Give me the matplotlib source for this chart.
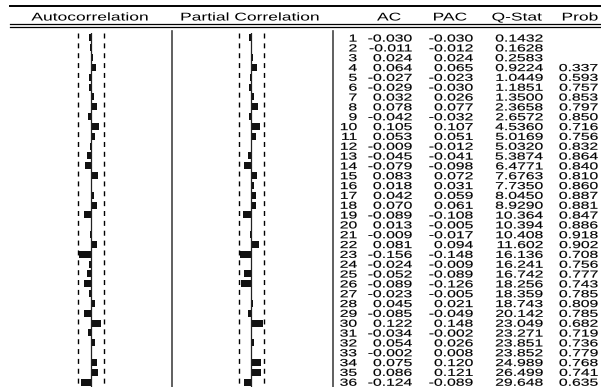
import matplotlib
matplotlib.use("Agg")
import matplotlib.pyplot as plt
from matplotlib.patheffects import AbstractPathEffect
from matplotlib.transforms import Affine2D

plt.rcParams['font.family'] = 'Liberation Sans'
plt.rcParams['lines.scale_dashes'] = False

# correlogram values (lags 1..36)
lags = list(range(1, 37))
ac = [-0.030, -0.011, 0.024, 0.064, -0.027, -0.029, 0.032, 0.078, -0.042, 0.105,
      0.053, -0.009, -0.045, -0.079, 0.083, 0.018, 0.042, 0.070, -0.089, 0.013,
      -0.009, 0.081, -0.156, -0.024, -0.052, -0.089, -0.023, 0.045, -0.085, 0.122,
      -0.034, 0.054, -0.002, 0.075, 0.086, -0.124]
pac = [-0.030, -0.012, 0.024, 0.065, -0.023, -0.030, 0.026, 0.077, -0.032, 0.107,
       0.051, -0.012, -0.041, -0.098, 0.072, 0.031, 0.059, 0.061, -0.108, -0.005,
       -0.017, 0.094, -0.148, -0.009, -0.089, -0.126, -0.005, 0.021, -0.049, 0.148,
       -0.002, 0.026, 0.008, 0.120, 0.121, -0.089]
q_stat = [0.1432, 0.1628, 0.2583, 0.9224, 1.0449, 1.1851, 1.3500, 2.3658, 2.6572, 4.5360,
          5.0169, 5.0320, 5.3874, 6.4771, 7.6763, 7.7350, 8.0450, 8.9290, 10.364, 10.394,
          10.408, 11.602, 16.136, 16.241, 16.742, 18.256, 18.359, 18.743, 20.142, 23.049,
          23.271, 23.851, 23.852, 24.989, 26.499, 29.648]
prob = [None, None, None, 0.337, 0.593, 0.757, 0.853, 0.797, 0.850, 0.716,
        0.756, 0.832, 0.864, 0.840, 0.810, 0.860, 0.887, 0.881, 0.847, 0.886,
        0.918, 0.902, 0.708, 0.756, 0.777, 0.743, 0.785, 0.809, 0.785, 0.682,
        0.719, 0.736, 0.779, 0.768, 0.741, 0.635]
band = 0.16  # approx 2/sqrt(T)

W, H = 601, 387
TOP = 33        # first table row starts here (px)
SCALE = 80      # px per unit of correlation
STRETCH = 1.55  # wide report font


class Widen(AbstractPathEffect):
    """Stretch text glyphs horizontally around an anchor, with a thin outline."""

    def __init__(self, sx, anchor='left', stroke=0.0):
        super().__init__()
        self.sx = sx
        self.anchor = anchor
        self.stroke = stroke

    def draw_path(self, renderer, gc, tpath, affine, rgbFace=None):
        ext = tpath.get_extents()
        if self.anchor == 'right':
            px = ext.x1
        elif self.anchor == 'center':
            px = (ext.x0 + ext.x1) / 2
        else:
            px = ext.x0
        st = Affine2D().translate(-px, 0).scale(self.sx, 1).translate(px, 0)
        gc0 = renderer.new_gc()
        gc0.copy_properties(gc)
        gc0.set_linewidth(self.stroke)
        gc0.set_foreground(rgbFace)
        renderer.draw_path(gc0, tpath, st + affine, rgbFace)
        gc0.restore()


fig = plt.figure(figsize=(W / 100, H / 100), dpi=100)

# header, rules and column separators in pixel coordinates
hdr = fig.add_axes([0, 0, 1, 1])
hdr.set_xlim(0, W)
hdr.set_ylim(H, 0)
hdr.axis('off')
hdr.plot([10, W], [6, 6], color='k', lw=1.4)
hdr.plot([10, W], [24, 24], color='k', lw=0.9)
hdr.plot([10, W], [27, 27], color='k', lw=0.9)
for xs in (172, 333):
    hdr.plot([xs, xs], [31, H], color='#444444', lw=1.2)

headers = [("Autocorrelation", 90), ("Partial Correlation", 250),
           ("AC", 389), ("PAC", 450), ("Q-Stat", 517), ("Prob", 580)]
for label, xc in headers:
    hdr.text(xc, 20.5, label, ha='center', va='baseline', fontsize=8.1,
             path_effects=[Widen(STRETCH, 'center')])


def corr_panel(x0, x1, zero_px, vals):
    ax = fig.add_axes([x0 / W, 0, (x1 - x0) / W, (H - TOP) / H])
    ax.set_xlim(-(zero_px - x0) / SCALE, (x1 - zero_px) / SCALE)
    ax.set_ylim(36.5, 0.5)
    ax.axis('off')
    ax.barh(lags, vals, height=0.7, color='#111111')
    ax.plot([0, 0], [0.5, 36.5], color='#222222', lw=0.9)
    for b in (-band, band):
        ax.plot([b, b], [0.5, 36.5], color='k', lw=1.0,
                linestyle=(0, (3.6, 3.5)))


corr_panel(0, 172, 91, ac)
corr_panel(172, 333, 251.5, pac)

# numeric table
tab = fig.add_axes([0, 0, 1, (H - TOP) / H])
tab.set_xlim(0, W)
tab.set_ylim(36.5, 0.5)
tab.axis('off')
right_edges = [357, 412, 473, 543, 598]
for i, lag in enumerate(lags):
    q = q_stat[i]
    cells = [str(lag), f"{ac[i]:.3f}", f"{pac[i]:.3f}",
             f"{q:.4f}" if q < 10 else f"{q:.3f}",
             "" if prob[i] is None else f"{prob[i]:.3f}"]
    for xr, s in zip(right_edges, cells):
        if s:
            tab.text(xr, lag + 0.37, s, ha='right', va='baseline', fontsize=7.3,
                     path_effects=[Widen(STRETCH, 'right', stroke=0.12)])

fig.savefig("out.png", dpi=100)
